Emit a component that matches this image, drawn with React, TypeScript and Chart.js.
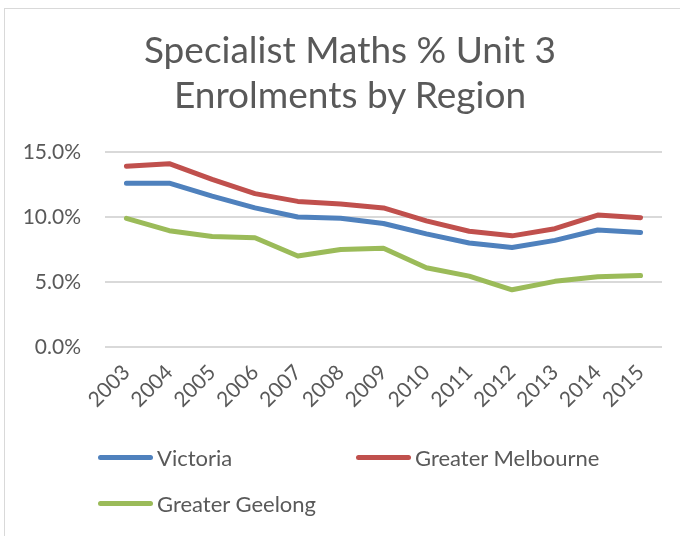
import React, { useEffect, useRef } from "react";
import { Chart, registerables } from "chart.js";

Chart.register(...registerables);

const titleLines = ["Specialist Maths % Unit 3", "Enrolments by Region"];
const years = ["2003", "2004", "2005", "2006", "2007", "2008", "2009", "2010", "2011", "2012", "2013", "2014", "2015"];
const victoria = [12.6, 12.6, 11.6, 10.7, 10.0, 9.9, 9.5, 8.7, 8.0, 7.65, 8.2, 9.0, 8.8];
const greaterMelbourne = [13.9, 14.1, 12.9, 11.8, 11.2, 11.0, 10.7, 9.7, 8.9, 8.55, 9.1, 10.15, 9.95];
const greaterGeelong = [9.9, 8.95, 8.5, 8.4, 7.0, 7.5, 7.6, 6.1, 5.45, 4.4, 5.05, 5.4, 5.5];
const seriesNames = ["Victoria", "Greater Melbourne", "Greater Geelong"];
const seriesColors = ["#4F81BD", "#C0504D", "#9BBB59"];
const yMin = 0;
const yMax = 15;
const yStep = 5;

const FONT = "Lato, 'Open Sans', sans-serif";
const TEXT = "#595959";

export default function App() {
  const ref = useRef<HTMLCanvasElement | null>(null);

  useEffect(() => {
    if (!ref.current) return;
    const data = [victoria, greaterMelbourne, greaterGeelong];
    const chart = new Chart(ref.current, {
      type: "line",
      data: {
        labels: years,
        datasets: seriesNames.map((name, i) => ({
          label: name,
          data: data[i],
          borderColor: seriesColors[i],
          backgroundColor: seriesColors[i],
          borderWidth: 5,
          pointRadius: 0,
          pointHoverRadius: 0,
          tension: 0,
          borderCapStyle: "round" as const,
          borderJoinStyle: "round" as const,
          fill: false,
        })),
      },
      options: {
        animation: false,
        responsive: false,
        maintainAspectRatio: false,
        layout: { padding: { left: 0, right: 23, top: 143, bottom: 0 } },
        plugins: {
          legend: { display: false },
          title: { display: false },
          tooltip: { enabled: false },
        },
        scales: {
          x: {
            type: "category",
            offset: true,
            grid: { display: false },
            border: { display: false },
            ticks: {
              minRotation: 45,
              maxRotation: 45,
              autoSkip: false,
              padding: 5,
              color: TEXT,
              font: { family: FONT, size: 21 },
            },
            afterFit: (scale: any) => {
              scale.height = 188;
            },
          },
          y: {
            min: yMin,
            max: yMax,
            grid: { color: "#d9d9d9", lineWidth: 2, drawTicks: false },
            border: { display: false },
            ticks: {
              stepSize: yStep,
              padding: 24,
              color: TEXT,
              font: { family: FONT, size: 21 },
              callback: (v: any) => Number(v).toFixed(1) + "%",
            },
            afterFit: (scale: any) => {
              scale.width = 100;
            },
          },
        },
      },
    });
    return () => chart.destroy();
  }, []);

  const legendItems = [
    { name: seriesNames[0], color: seriesColors[0], left: 93, center: 448 },
    { name: seriesNames[1], color: seriesColors[1], left: 351, center: 448 },
    { name: seriesNames[2], color: seriesColors[2], left: 93, center: 494 },
  ];

  return (
    <div style={{ position: "fixed", left: 0, top: 0, width: 680, height: 536, overflow: "hidden", background: "#fff" }}>
      <div
        style={{
          position: "absolute",
          left: 4,
          top: 8,
          width: 690,
          height: 560,
          border: "1px solid #d9d9d9",
          boxSizing: "border-box",
        }}
      >
        <canvas ref={ref} width={680} height={526} style={{ position: "absolute", left: 0, top: 0, width: 680, height: 526 }} />
        <div
          style={{
            position: "absolute",
            left: 0,
            width: 690,
            top: 17,
            textAlign: "center",
            fontFamily: FONT,
            fontSize: 37,
            lineHeight: "45px",
            color: TEXT,
          }}
        >
          {titleLines.map((t) => (
            <div key={t}>{t}</div>
          ))}
        </div>
        {legendItems.map((it) => (
          <div
            key={it.name}
            style={{
              position: "absolute",
              left: it.left,
              top: it.center - 15,
              height: 30,
              display: "flex",
              alignItems: "center",
              fontFamily: FONT,
              fontSize: 22,
              color: TEXT,
              whiteSpace: "nowrap",
            }}
          >
            <span style={{ display: "inline-block", width: 55, height: 5, borderRadius: 3, background: it.color, marginRight: 4 }} />
            <span>{it.name}</span>
          </div>
        ))}
      </div>
    </div>
  );
}
